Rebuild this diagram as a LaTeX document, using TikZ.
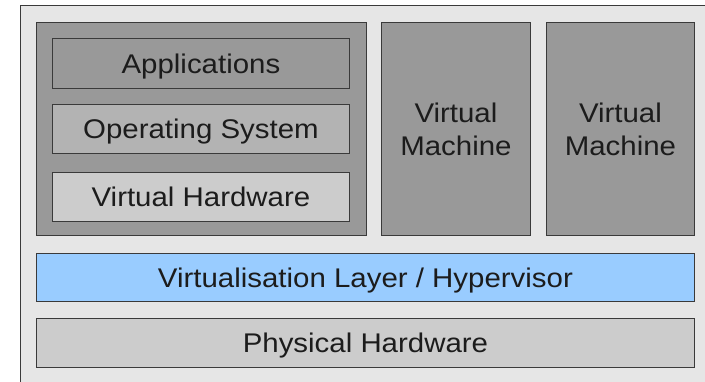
\documentclass[tikz,border=0pt]{standalone}
\usepackage{fontspec}
\setmainfont[FakeStretch=1.09]{Liberation Sans}
\usepackage{tikz}
\usetikzlibrary{positioning}

\definecolor{bgGray}{HTML}{E6E6E6}
\definecolor{darkGray}{HTML}{999999}
\definecolor{midGray}{HTML}{B3B3B3}
\definecolor{lightGray}{HTML}{CCCCCC}
\definecolor{hyperBlue}{HTML}{99CCFF}
\definecolor{edgeGray}{HTML}{3A3A3A}
\definecolor{textGray}{HTML}{1C1C1C}

\begin{document}
\begin{tikzpicture}[
    x=1pt, y=-1pt,
    layerbox/.style={rectangle, draw=edgeGray, line width=0.9pt, inner sep=0pt, anchor=north west,
      text=textGray, font=\fontsize{27}{33}\selectfont, align=center,
      text height=24pt, text depth=4.6pt},
    vmbox/.style={layerbox, fill=darkGray, minimum height=213pt, text height=57pt},
  ]

    \useasboundingbox (0,0) rectangle (705,382);
    \clip (0,0) rectangle (705,382);

    % Background frame (cut off at right and bottom)
    \node[layerbox, fill=bgGray, minimum width=720pt, minimum height=420pt] (outer) at (20,5) {};

    % First virtual machine with its stack
    \node[layerbox, fill=darkGray, minimum width=330pt, minimum height=213pt] (vmone) at (36,22) {};
    \node[layerbox, fill=darkGray, minimum width=297pt, minimum height=50pt] (apps) at (52,38) {Applications};
    \node[layerbox, fill=midGray, minimum width=297pt, minimum height=49pt] (os) at (52,104) {Operating System};
    \node[layerbox, fill=lightGray, minimum width=297pt, minimum height=49pt] (vhw) at (52,172) {Virtual Hardware};

    % Other virtual machines
    \node[vmbox, minimum width=149pt] (vmtwo) at (381,22) {Virtual\\Machine};
    \node[vmbox, minimum width=148pt] (vmthree) at (546,22) {Virtual\\Machine};

    % Lower layers
    \node[layerbox, fill=hyperBlue, minimum width=658pt, minimum height=48pt] (hyper) at (36,253) {Virtualisation Layer / Hypervisor};
    \node[layerbox, fill=lightGray, minimum width=658pt, minimum height=49pt] (phys) at (36,318) {Physical Hardware};

  \end{tikzpicture}
\end{document}
